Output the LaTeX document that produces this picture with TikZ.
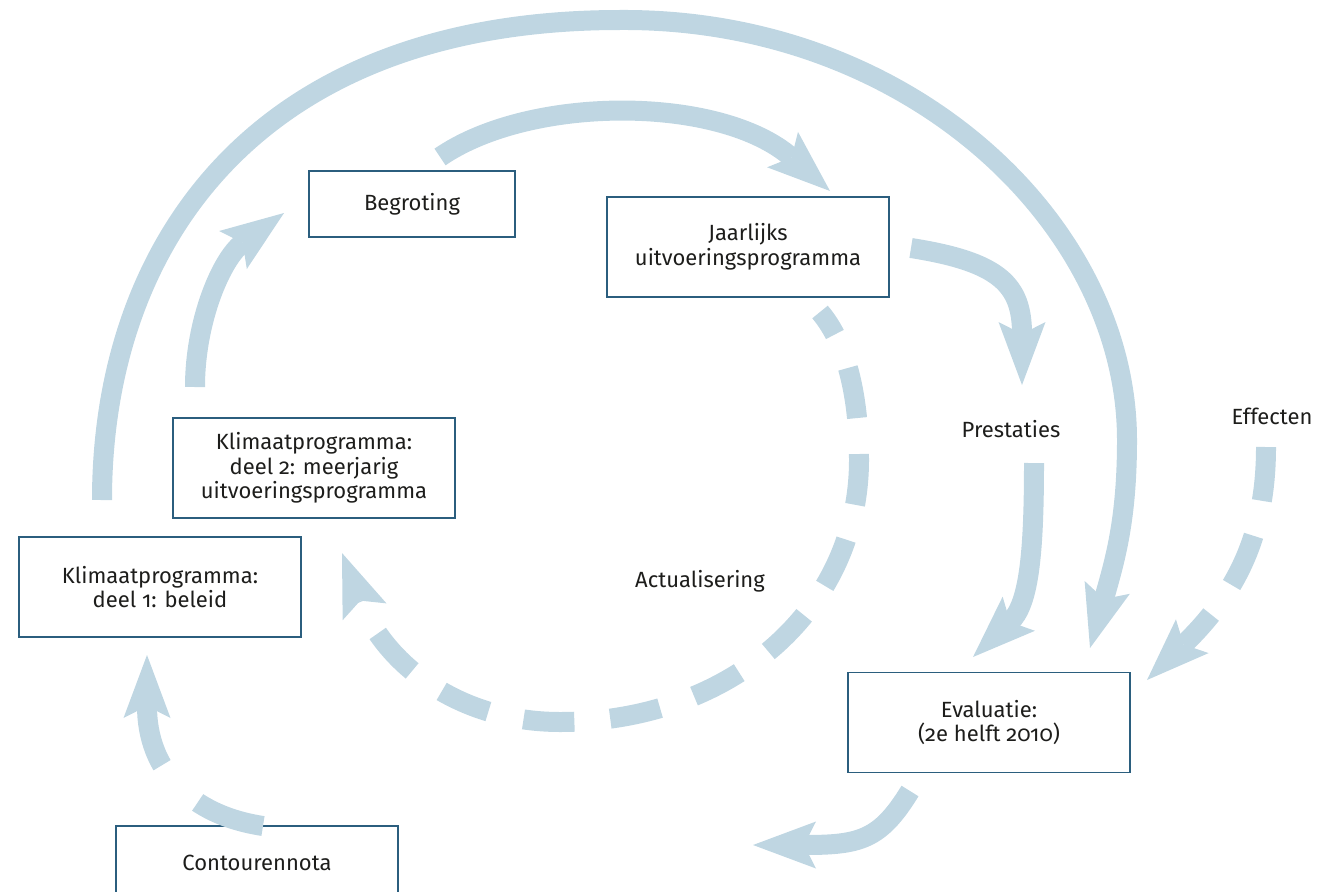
\documentclass[tikz,border=0pt]{standalone}
\usepackage{fontspec}
\setmainfont{Fira Sans}[Numbers=OldStyle]
\usetikzlibrary{arrows.meta}
\definecolor{arr}{HTML}{BFD6E2}
\definecolor{bord}{HTML}{2B5E7E}
\definecolor{txt}{HTML}{1D1D1B}
\begin{document}
\begin{tikzpicture}[x=1pt,y=-1pt,
  txtfont/.style={font=\fontsize{22}{24.5}\selectfont, text=txt},
  box/.style={txtfont, draw=bord, line width=1.6pt, align=center, inner sep=0pt,
              minimum width=282pt, minimum height=100pt},
  lbl/.style={txtfont, anchor=base, inner sep=0pt},
  flow/.style={draw=arr, line width=20pt,
               -{Stealth[length=63pt,width=47pt,inset=12pt,line width=0pt]}},
  dashflow/.style={flow, dash pattern=on 51pt off 36pt},
]
\useasboundingbox (0,0) rectangle (1319,891);
\clip (0,0) rectangle (1319,891);

% boxes
\node[box, minimum width=206pt, minimum height=66pt] (begr) at (412,204) {Begroting};
\node[box] (jaar) at (748,247) {Jaarlijks\\uitvoeringsprogramma};
\node[box] (deel2) at (314,468) {Klimaatprogramma:\\deel 2: meerjarig\\uitvoeringsprogramma};
\node[box] (deel1) at (160,587) {Klimaatprogramma:\\deel 1: beleid};
\node[box] (eval) at (989,722.5) {Evaluatie:\\(2e helft 2010)};
\node[box, minimum height=74pt] (cont) at (257,863) {Contourennota};

% labels
\node[lbl] (prest) at (1011,437.7) {Prestaties};
\node[lbl] (eff) at (1272,424) {Effecten};
\node[lbl] (act) at (700,587) {Actualisering};

% connector end points
\coordinate (c1s) at (263,826);  \coordinate (c1e) at (147,655);
\coordinate (c2s) at (195,387);  \coordinate (c2e) at (284,213);
\coordinate (c3s) at (440,157);  \coordinate (c3e) at (830,191);
\coordinate (c4s) at (911,248);  \coordinate (c4e) at (1022,385);
\coordinate (c5s) at (1034,463); \coordinate (c5e) at (973,657);
\coordinate (c6s) at (1266,447); \coordinate (c6e) at (1147,680);
\coordinate (c7s) at (102,500);  \coordinate (c7e) at (1090,648);
\coordinate (c8s) at (820,312);  \coordinate (c8e) at (342,553);
\coordinate (c9s) at (910,791);  \coordinate (c9e) at (753,845);

% Contourennota -> deel 1
\draw[flow, dash pattern=on 70pt off 52pt on 400pt] (c1s) .. controls (190,815) and (147,770) .. (c1e);
% deel 2 -> Begroting
\draw[flow] (c2s) .. controls (195,320) and (222,258) .. (c2e);
% Begroting -> Jaarlijks
\draw[flow] (c3s) .. controls (530,95) and (720,95) .. (c3e);
% Jaarlijks -> Prestaties
\draw[flow] (c4s) .. controls (1000,262) and (1022,285) .. (c4e);
% Prestaties -> Evaluatie
\draw[flow] (c5s) .. controls (1034,560) and (1028,605) .. (c5e);
% Effecten -> Evaluatie
\draw[dashflow, dash pattern=on 54pt off 36pt] (c6s) .. controls (1266,530) and (1240,590) .. (c6e);
% big loop deel 1 -> Evaluatie
\draw[flow] (c7s) .. controls (102,250) and (250,20) .. (620,20)
                  .. controls (910,18) and (1127,225) .. (1127,440)
                  .. controls (1127,520) and (1115,560) .. (c7e);
% Actualisering loop
\draw[dashflow, dash phase=24pt] (c8s) .. controls (848,345) and (859,400) .. (859,460)
                  .. controls (859,610) and (730,722) .. (560,722)
                  .. controls (460,722) and (385,665) .. (c8e);
% Evaluatie -> out
\draw[flow] (c9s) .. controls (880,840) and (860,845) .. (c9e);
\end{tikzpicture}
\end{document}
